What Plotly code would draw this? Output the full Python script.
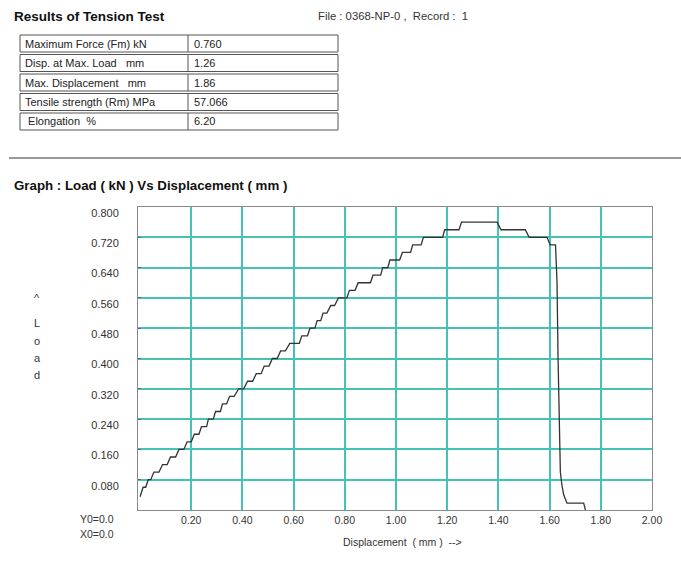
import plotly.graph_objects as go

# ---- data ----
level_kn = [0.06, 0.08, 0.10, 0.12, 0.14, 0.16, 0.18, 0.20, 0.22, 0.24, 0.26, 0.28, 0.30,
            0.32, 0.34, 0.36, 0.38, 0.40, 0.42, 0.44, 0.46, 0.48, 0.50, 0.52, 0.54, 0.56,
            0.58, 0.60, 0.62, 0.64, 0.66, 0.68, 0.70, 0.72, 0.74, 0.76, 0.74, 0.72, 0.70]
flat_start_mm = [0.012, 0.032, 0.054, 0.088, 0.119, 0.152, 0.184, 0.212, 0.240, 0.267, 0.295, 0.322, 0.350,
                 0.385, 0.420, 0.454, 0.485, 0.517, 0.549, 0.585, 0.632, 0.664, 0.692, 0.715, 0.745, 0.775,
                 0.818, 0.852, 0.910, 0.948, 0.976, 1.025, 1.065, 1.107, 1.190, 1.256, 1.410, 1.520, 1.602]
flat_end_mm = [0.022, 0.042, 0.074, 0.106, 0.139, 0.171, 0.200, 0.230, 0.260, 0.286, 0.314, 0.338, 0.368,
               0.405, 0.440, 0.473, 0.504, 0.536, 0.568, 0.622, 0.654, 0.683, 0.706, 0.730, 0.760, 0.808,
               0.840, 0.900, 0.940, 0.968, 1.014, 1.057, 1.098, 1.182, 1.246, 1.395, 1.505, 1.590, 1.623]
start_point = (0.0, 0.035)
drop_mm = [1.629, 1.633, 1.638, 1.642, 1.648, 1.655, 1.668, 1.733, 1.740]
drop_kn = [0.600, 0.400, 0.225, 0.100, 0.066, 0.040, 0.018, 0.018, 0.000]

x_ticks = [0.2, 0.4, 0.6, 0.8, 1.0, 1.2, 1.4, 1.6, 1.8, 2.0]
x_tick_text = ["0.20", "0.40", "0.60", "0.80", "1.00", "1.20", "1.40", "1.60", "1.80", "2.00"]
y_ticks = [0.08, 0.16, 0.24, 0.32, 0.40, 0.48, 0.56, 0.64, 0.72, 0.80]
y_tick_text = ["0.080", "0.160", "0.240", "0.320", "0.400", "0.480", "0.560", "0.640", "0.720", "0.800"]

table_labels = ["Maximum Force (Fm) kN", "Disp. at Max. Load   mm", "Max. Displacement   mm",
                "Tensile strength (Rm) MPa", " Elongation  %"]
table_values = ["0.760", "1.26", "1.86", "57.066", "6.20"]

# ---- build curve ----
xs = [start_point[0]]
ys = [start_point[1]]
for lv, a, b in zip(level_kn, flat_start_mm, flat_end_mm):
    xs += [a, b]
    ys += [lv, lv]
xs += drop_mm
ys += drop_kn

W, H = 681, 563
L, R, T, B = 138, 652, 207, 510


def px(x):
    return (x - L) / (R - L)


def py(y):
    return (B - y) / (B - T)


fig = go.Figure()
fig.add_trace(go.Scatter(x=xs, y=ys, mode="lines",
                         line=dict(color="#333333", width=1.3), hoverinfo="skip",
                         showlegend=False))

FONT = "Liberation Sans, Arial, sans-serif"
fig.update_layout(
    width=W, height=H,
    margin=dict(l=L, r=W - R, t=T, b=H - B),
    paper_bgcolor="white", plot_bgcolor="white",
    font=dict(family=FONT, size=11, color="#333"),
    xaxis=dict(range=[-0.008, 2.0], tickvals=x_ticks, ticktext=x_tick_text,
               showgrid=True, gridcolor="#45c2b5", gridwidth=1.5, zeroline=False,
               showline=True, linecolor="#8a8a8a", linewidth=1, mirror=True,
               ticks="", tickfont=dict(size=10.5, color="#333")),
    yaxis=dict(range=[0, 0.8], tickvals=y_ticks, ticktext=y_tick_text,
               showgrid=True, gridcolor="#45c2b5", gridwidth=1.5, zeroline=False,
               showline=True, linecolor="#8a8a8a", linewidth=1, mirror=True,
               ticks="inside", ticklen=3, tickcolor="#666",
               ticklabelstandoff=16, ticklabelshift=6,
               tickfont=dict(size=11, color="#333")),
)

ann = []
shapes = []


def text(x, y, s, size=10, bold=False, anchor="left", color="#222"):
    ann.append(dict(x=px(x), y=py(y), xref="paper", yref="paper", text=("<b>%s</b>" % s) if bold else s,
                    showarrow=False, xanchor=anchor, yanchor="middle",
                    font=dict(family=FONT, size=size, color=color)))


text(12, 16, "Results of Tension Test", size=13.5, bold=True, color="#111")
text(316, 16, "File : 0368-NP-0 ,  Record :  1", size=11.3, color="#333")

row_tops = [35, 54.5, 74, 93.5, 113]
row_h = 17
for top, lab, val in zip(row_tops, table_labels, table_values):
    shapes.append(dict(type="rect", xref="paper", yref="paper",
                       x0=px(20), x1=px(338), y0=py(top), y1=py(top + row_h),
                       line=dict(color="#555", width=1), fillcolor="rgba(0,0,0,0)"))
    shapes.append(dict(type="line", xref="paper", yref="paper",
                       x0=px(188), x1=px(188), y0=py(top), y1=py(top + row_h),
                       line=dict(color="#555", width=1)))
    text(23, top + row_h / 2, lab, size=11, color="#222")
    text(192, top + row_h / 2, val, size=11, color="#222")

shapes.append(dict(type="line", xref="paper", yref="paper", x0=px(9), x1=px(681),
                   y0=py(158), y1=py(158), line=dict(color="#9a9a9a", width=2)))

text(12, 185, "Graph : Load ( kN ) Vs Displacement ( mm )", size=13.3, bold=True, color="#111")

for ch, yy in zip(["^", "L", "o", "a", "d"], [298, 323, 341, 358, 375]):
    text(37, yy, ch, size=11, anchor="center", color="#333")

text(116, 519, "Y0=0.0", size=10.5, anchor="right", color="#333")
text(116, 534, "X0=0.0", size=10.5, anchor="right", color="#333")
text(402, 542, "Displacement  ( mm )  -->", size=10.5, anchor="center", color="#333")

fig.update_layout(annotations=ann, shapes=shapes)
fig.write_html("out.html", config={"displayModeBar": False},
               post_script="document.body.style.margin='0';document.body.style.padding='0';")
